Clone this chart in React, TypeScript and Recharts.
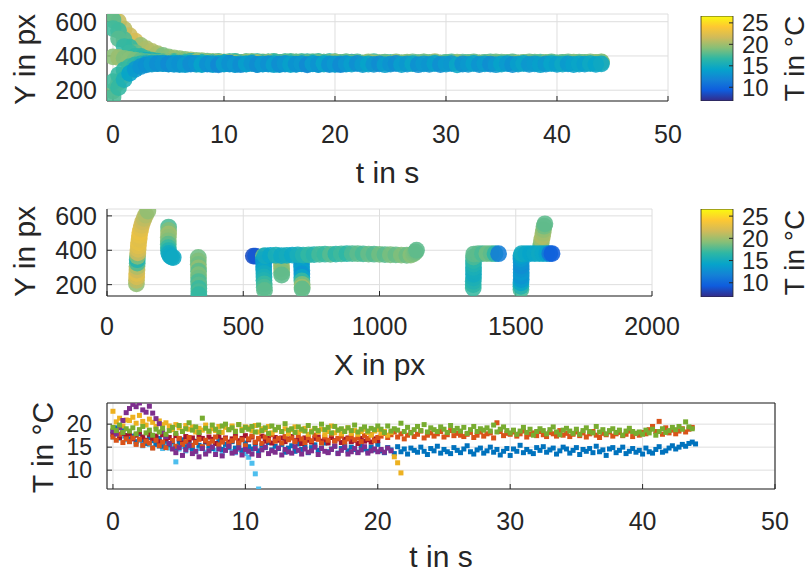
import React from 'react';
import { ScatterChart, Scatter, XAxis, YAxis, CartesianGrid, BarChart, Bar } from 'recharts';

// ---------- style constants ----------
const FONT = '"Liberation Sans", Arial, Helvetica, sans-serif';
const INK = '#262626';
const GRID = '#dedede';
const C_MIN = 6.8;
const C_MAX = 26.6;
const PARULA = ['#352a87', '#0f5cdd', '#1481d6', '#06a4ca', '#2eb7a4', '#87bf77', '#d1bb59', '#fec832', '#f9fb0e'];

// ---------- data ----------
const T_STEP = 0.25; // s, sampling of temperature series
const TRACK_STEP = 0.5; // s, sampling of Y tracks (top plot)

const T_TICKS = [0, 10, 20, 30, 40, 50];
const Y_TICKS = [200, 400, 600];
const X_TICKS = [0, 500, 1000, 1500, 2000];
const TEMP_TICKS = [10, 15, 20];
const CBAR_TICKS = [10, 15, 20, 25];

const BLUE_T = [18.5,19.2,17.8,18.9,17.5,
16.8,17.4,16.2,17.9,16.5,15.8,17.1,16.4,15.6,16.9,15.2,16.3,
15.5,16.2,14.8,15.9,16.6,15.1,15.7,14.6,16.3,15.4,14.9,16.1,15.3,14.7,15.8,16.4,14.5,15.6,15.0,16.2,14.8,15.5,14.3,15.9,
15.1,14.6,15.8,14.2,15.4,14.9,16.0,14.4,15.2,14.7,15.6,13.9,14.8,15.3,14.1,15.7,14.5,15.0,13.8,14.9,15.5,14.3,14.8,15.9,14.0,14.6,15.2,13.7,14.7,15.4,14.2,15.0,14.5,13.9,15.3,14.6,14.1,15.0,14.4,15.6,
14.2,13.8,14.9,14.4,13.6,15.1,14.0,14.6,13.5,14.8,14.3,13.9,15.0,14.1,13.4,14.7,14.2,15.2,13.7,14.5,14.0,13.6,14.9,14.3,13.8,14.6,15.3,14.0,13.5,14.4,14.8,13.7,14.2,15.0,13.9,14.5,13.3,14.1,14.7,
13.2,14.6,14.1,15.4,13.8,14.5,14.0,13.6,14.9,14.3,15.1,13.9,14.4,14.8,13.5,14.2,15.0,14.6,13.7,14.3,14.9,13.4,14.5,14.1,14.7,13.8,15.2,14.0,14.4,13.2,14.6,14.9,13.8,14.3,15.0,13.6,14.1,14.7,13.9,
14.3,13.5,14.8,14.0,13.7,14.5,15.1,13.9,14.2,14.8,15.3,14.6,15.0,15.6,15.2,15.8,16.1,15.7];

const ORANGE_T = [17.2,16.5,17.8,16.0,16.8,
16.2,17.0,15.6,16.7,15.4,16.3,15.9,14.8,16.5,15.3,16.1,14.9,
15.8,16.4,15.2,16.9,15.6,16.2,17.1,15.4,16.0,16.7,15.1,16.5,15.8,16.3,17.2,15.5,16.1,16.8,15.7,16.4,17.0,15.9,16.6,15.3,
16.8,17.4,16.1,16.9,15.8,17.2,16.5,17.7,16.3,16.9,15.9,17.3,16.6,17.0,16.2,17.5,16.8,16.0,17.1,16.4,17.6,16.7,15.9,17.2,16.5,17.8,16.3,16.9,17.4,16.1,16.8,17.3,16.6,17.0,16.2,17.5,16.9,17.7,16.4,17.1,
17.4,18.0,17.1,17.7,18.3,17.2,17.9,16.8,17.6,18.2,17.3,17.8,18.5,17.0,17.6,18.1,17.4,17.9,18.4,17.2,17.7,18.6,17.5,18.0,17.6,17.3,17.8,18.2,17.1,17.6,18.3,17.4,17.9,18.1,17.0,20.3,18.4,17.5,18.0,
17.8,18.3,17.4,17.9,18.5,17.2,17.8,18.1,17.5,18.4,17.7,17.3,18.2,17.9,17.4,18.6,17.6,18.0,17.3,17.8,18.3,17.5,18.1,17.2,17.9,18.4,17.6,17.1,18.0,17.7,18.3,17.4,17.9,18.2,17.5,17.8,18.5,17.3,18.0,
17.6,18.2,17.9,18.8,19.5,18.4,20.6,17.8,19.2,18.1,18.7,17.9,18.5,19.0,18.3,18.9,19.3];

const GREEN_T = [19.3,18.6,19.8,18.2,19.0,
18.5,19.2,17.9,18.8,19.5,18.1,18.7,17.6,18.9,18.3,19.1,17.8,
18.6,19.3,18.0,19.7,18.4,19.0,20.3,18.7,19.4,18.2,21.3,19.1,18.5,19.8,18.9,18.3,19.6,20.0,18.8,19.2,18.4,19.9,18.6,19.3,
18.9,19.5,18.3,19.8,18.6,19.2,18.0,19.6,18.8,19.3,18.4,20.1,18.7,19.0,18.2,19.4,18.9,18.5,19.7,18.3,19.1,18.6,20.0,18.8,19.3,18.1,19.5,18.7,19.0,18.4,19.2,18.6,19.8,18.3,18.9,19.4,18.5,19.1,18.8,19.6,
18.9,18.2,19.6,18.5,19.0,18.7,20.2,18.4,19.3,18.1,18.8,19.5,18.6,19.9,18.3,19.2,18.8,18.4,19.4,18.9,18.2,19.7,18.6,19.1,18.5,19.3,18.0,18.8,19.5,18.4,19.0,18.7,19.2,18.5,19.8,18.3,18.9,19.4,18.6,
18.1,18.7,17.8,18.5,19.3,18.2,18.9,17.6,18.4,19.0,18.6,17.9,18.8,19.4,18.3,17.7,18.7,19.1,18.5,18.0,18.9,17.8,18.6,19.2,18.4,18.1,19.5,18.3,18.8,17.9,18.6,19.0,18.2,18.7,17.6,18.5,19.1,18.4,18.0,
18.3,17.8,18.7,18.1,18.9,17.6,18.4,19.0,18.2,18.6,19.3,18.8,19.5,18.9,20.5,19.4,19.0];

const YELLOW_T = [22.8,20.5,21.3,19.6,20.9,
20.8,21.5,20.2,21.9,20.6,19.8,21.1,20.4,19.5,20.7,19.9,20.3,
19.6,18.8,19.9,19.2,18.5,19.7,18.9,19.4,18.3,19.1,18.7,19.8,18.4,19.0,18.6,19.5,18.2,19.3,18.8,19.6,18.5,19.9,18.9,19.4,
19.2,18.6,19.7,18.3,19.0,18.8,19.5,18.1,18.7,19.3,18.4,19.0,17.9,18.8,19.4,18.2,18.6,19.1,17.8,18.5,19.0,18.3,18.9,17.7,18.4,19.6,18.1,18.7,17.9,18.5,19.2,18.0,18.6,17.8,18.4,18.9,18.2,17.6,18.5,18.8,
18.0,18.4,17.6,18.2,12.9,11.6,9.4];

const PURPLE_T = [18.5,17.9,19.2,20.8,22.5,
23.4,24.3,23.8,24.6,23.1,22.6,23.9,22.4,21.2,20.1,18.4,17.3,
15.8,14.6,13.8,14.9,13.2,14.4,15.3,13.6,14.1,12.9,14.7,13.5,14.2,15.0,13.4,14.6,13.1,14.3,15.2,13.7,14.0,14.8,13.3,14.5,
14.1,13.5,14.7,13.2,14.4,15.0,13.6,14.2,13.9,14.8,13.3,14.5,14.0,13.7,15.1,14.3,13.5,14.6,13.9,14.2,15.0,13.4,14.7,14.1,13.8,14.5,15.2,13.6,14.3,14.9,13.5,14.0,14.7,13.8,14.4,15.1,13.7,14.2,14.6,14.0,
14.5,13.9,14.8,14.2];

const DARKRED_T = [17.8,18.4,17.1,18.0,17.5,
17.9,16.8,17.6,18.3,17.2,16.5,17.8,16.9,17.4,16.2,17.7,16.8,
17.1,16.4,17.5,16.8,15.9,17.3,16.6,17.0,16.2,17.6,16.9,16.3,17.2,16.7,15.8,17.4,16.5,17.0,16.1,16.8,17.3,16.4,16.9,17.5,
16.6,17.2,16.0,16.8,17.4,16.3,16.9,15.9,17.1,16.5,17.0,16.2,16.8,17.3,16.4,16.7,15.8,17.0,16.5,16.1,16.9,17.2,16.3,16.6,15.9,17.1,16.4,16.8,16.0,16.7,17.0,16.2,16.5,15.8,16.9,16.3,16.6,16.1,16.8,16.4];

const LIGHTBLUE_T = [17.2,17.8,16.9,17.4,16.6,
16.2,16.9,15.8,16.5,15.3,16.0,15.6,14.9,15.8,15.2,14.7,15.5,
14.8,15.3,11.8,14.6,15.1,14.2,14.9,15.4,14.0,14.7,15.2,13.9,14.5,15.0,14.3,14.8,13.7,14.4,14.9,14.1,13.8,14.5,14.2,13.6,
12.8,11.5,9.2,5.9];

// Y position tracks (px) sampled every TRACK_STEP seconds
const TRACK_A_Y = [160,215,262,298,322,338,348,353,355,356,
354,351,356,349,353,357,350,352,355,348,353,356,351,349,354,357,350,352,355,349,
353,356,350,352,355,348,354,351,357,350,353,349,355,352,356,350,353,351,354,349,
352,356,350,353,355,349,354,351,356,350,352,355,348,353,351,356,350,354,352,349,
353,355,350,352,356,351,354,349,353,355,351,352,354,350,353,352,355,351,354];
// temperature carried by track A (colour in the top plot)
const TRACK_A_T = [17.5,16.8,15.6,14.2,13.5,13.0,12.8,13.4,12.6,13.1,
12.4,13.2,12.9,13.6,12.5,13.0,14.2,12.7,13.3,12.2,13.8,12.9,13.4,12.6,14.0,13.1,12.5,13.5,12.8,13.9,
12.6,13.3,14.1,12.9,13.4,12.3,13.7,13.0,14.3,12.8,13.5,12.4,13.2,13.9,12.7,13.6,14.2,13.1,12.5,13.8,
13.0,12.6,13.9,13.3,14.4,12.8,13.5,13.1,14.0,12.7,13.6,13.2,14.5,12.9,13.4,14.1,13.0,13.7,12.6,13.3,
14.2,13.5,12.9,13.8,14.4,13.2,13.6,14.0,13.3,14.3,13.8,14.6,13.5,14.1,14.4,13.9,14.7,14.2,14.8];
const TRACK_B_Y = [560,500,455,420,397,383,374,368,365,363,
362,365,360,364,367,361,363,366,359,364,362,367,360,363,365,361,366,362,364,360,
363,366,361,364,359,365,362,367,360,363,364,361,366,362,365,360,363,367,361,364,
362,365,360,363,366,361,364,362,367,360,363,365,361,364,362,366,360,363,365,361,
364,362,366,360,363,365,361,364,362,366,360,363,365,361,364,362,366,363,365];
const TRACK_C_Y = [395,391,386,380,375,371,368,366,364,363,
362,359,364,357,361,365,358,362,360,366,357,363,359,361,365,358,362,360,364,357,
361,363,358,365,360,362,357,364,359,361,366,358,363,360,362,357,365,359,361,363,
358,362,360,364,357,361,365,359,362,358,363,360,364,357,361,363,359,362,360,365,
358,361,363,359,362,360,364,358,361,363,360,362,359,364,361,363,360,362,364];
const TRACK_D_Y = [645,600,556,518,487,462,442,426,413,403,395,389,384,380,377,374,372,370,368,367,
366,364,367,363,365,368,362,366,364,367,363,365,368,364,366,363,367,365,364,366,
365,363,366,364];
const TRACK_E_Y = [195,245,285,315,335,347,353,356,357,355,
352,356,350,354,357,351,353,355,349,354,356,352,350,355,353,357,351,354,352,356,
350,353,355,351,354,352,356,350,353,355,351,354,353];
const TRACK_F_Y = [250,290,318,337,348,354,357,358,356,359,355,358,354,357,359,355,358,356,354,357,355,358];
const TRACK_G_Y = [610,548,495,452,420,398,384,375,369,366,364,367,362,365,368,363,366,361,364,367,
362,365,368,363,366,364,367,362,365,368,363,366,364,362,367,365,363,366,364,367,365];

// Y vs X segments: [X px, Y px, T °C]
const SEG_1 = [[108,205,19.5],[108,225,21],[109,245,22],[109,265,22.5],[110,285,21.5],[110,305,20.5],[111,325,17.5],[111,345,16],[112,365,19],[113,385,21.5],[114,405,22],[115,425,22.5],[116,445,22.8],[118,465,22.5],[119,485,22.8],[121,505,23],[124,525,22.5],[127,545,22],[131,565,21.5],[136,585,21],[142,605,20.5],[150,628,19.5]];
const SEG_2 = [[226,535,17.5],[226,515,19],[226,495,20],[225,475,19.5],[225,455,19],[225,435,18],[225,415,17],[226,398,16],[227,382,15],[231,368,14.8],[237,360,14.6],[243,358,14.8]];
const SEG_3 = [[335,358,18.5],[335,338,19],[335,318,18.5],[336,298,19.5],[336,278,18],[336,258,19],[336,238,18.5],[336,218,17.5],[337,198,18],[337,178,17],[337,160,17.5],[337,142,16.8]];
const SEG_4 = [[537,366,8.5],[545,366,9]];
const SEG_5 = [[574,366,18.5],[574,345,14],[575,325,13],[575,305,13.5],[575,285,14.5],[576,265,15],[576,245,15.5],[576,225,16],[577,205,17],[577,185,17.5],[578,166,18]];
const SEG_6 = [[640,352,18],[640,332,19],[640,312,20],[641,292,19.5],[641,272,19],[641,256,18]];
const SEG_7 = [[714,362,13],[714,342,12.5],[714,322,13],[714,302,13.5],[715,282,14],[715,262,13],[715,242,14.5],[715,222,17],[716,202,19],[716,185,20],[716,175,18]];
const SEG_8 = [[580,368,15],[600,370,14.5],[620,371,15.5],[640,369,14.8],[660,370,15.2],[680,372,14.6],[700,373,15.4],[720,372,16],[740,373,16.8],[760,375,16.2],[780,376,17.3],[800,377,16.9],[820,376,17.8],[840,378,16.5],[860,379,17.2],[880,380,16.6],[900,381,17.5],[920,380,18],[940,379,17.4],[960,378,18.3],[980,377,17.7],[1000,376,18.6],[1020,375,17.9],[1040,374,18.8],[1060,373,18.2],[1080,372,19],[1100,371,18.4],[1115,372,19.2],[1125,380,18.8],[1132,390,18.5],[1136,400,18]];
const SEG_9 = [[1344,180,17],[1344,200,16.5],[1344,220,16],[1345,240,15.5],[1345,260,15],[1345,280,15.2],[1345,300,15.5],[1345,320,16],[1345,340,16.5],[1345,360,17.5],[1346,378,18],[1362,381,18],[1378,381,17.5],[1394,381,18.5],[1410,381,18],[1424,380,16.5],[1437,380,11.5]];
const SEG_11 = [[1589,400,17],[1591,420,18],[1593,440,19],[1595,460,20],[1598,480,20.5],[1600,500,20],[1602,520,19.5],[1604,540,18.5],[1607,554,18]];
const SEG_10 = [[1519,172,17.5],[1519,190,16],[1519,210,14.5],[1520,230,13.5],[1520,250,13],[1520,270,13.5],[1520,290,13],[1520,310,12.5],[1520,330,13],[1519,350,13.5],[1519,368,14],[1522,381,15],[1538,381,14.5],[1554,381,14.2],[1570,381,14.5],[1586,381,14.8],[1600,381,14.5],[1614,381,14],[1625,381,11],[1633,381,9.5]];

// ---------- helpers ----------
function hexRgb(h: string) {
  return [parseInt(h.slice(1, 3), 16), parseInt(h.slice(3, 5), 16), parseInt(h.slice(5, 7), 16)];
}
function parula(T: number) {
  let u = (T - C_MIN) / (C_MAX - C_MIN);
  u = Math.max(0, Math.min(1, u)) * (PARULA.length - 1);
  const i = Math.min(Math.floor(u), PARULA.length - 2);
  const f = u - i;
  const a = hexRgb(PARULA[i]);
  const b = hexRgb(PARULA[i + 1]);
  const c = a.map((v, k) => Math.round(v + (b[k] - v) * f));
  return `rgb(${c[0]},${c[1]},${c[2]})`;
}

const RATIO = Math.round(TRACK_STEP / T_STEP);
const trackData = (ys: number[], temps: number[], ratio: number) =>
  ys.map((y, i) => ({ x: i * TRACK_STEP, y, T: temps[Math.min(i * ratio, temps.length - 1)] }));
const TOP_TRACKS = [
  trackData(TRACK_D_Y, YELLOW_T, RATIO),
  trackData(TRACK_G_Y, DARKRED_T, RATIO),
  trackData(TRACK_B_Y, ORANGE_T, RATIO),
  trackData(TRACK_C_Y, GREEN_T, RATIO),
  trackData(TRACK_E_Y, PURPLE_T, RATIO),
  trackData(TRACK_F_Y, LIGHTBLUE_T, RATIO),
  trackData(TRACK_A_Y, TRACK_A_T, 1),
];
const MID_SEGS = [SEG_1, SEG_2, SEG_3, SEG_4, SEG_5, SEG_6, SEG_7, SEG_8, SEG_9, SEG_11, SEG_10].map((s) =>
  s.map(([x, y, T]) => ({ x, y, T }))
);
const tempData = (temps: number[]) => temps.map((v, i) => ({ x: i * T_STEP, y: v }));
const BOTTOM = [
  { data: tempData(LIGHTBLUE_T), color: '#4DBEEE' },
  { data: tempData(BLUE_T), color: '#0072BD' },
  { data: tempData(DARKRED_T), color: '#A2142F' },
  { data: tempData(ORANGE_T), color: '#D95319' },
  { data: tempData(YELLOW_T), color: '#EDB120' },
  { data: tempData(PURPLE_T), color: '#7E2F8E' },
  { data: tempData(GREEN_T), color: '#77AC30' },
];
const CBAR_DATA = [{ name: 'T', range: [C_MIN, C_MAX] }];

// ---------- small components ----------
const Title = (props: any) => {
  const { tx, ty, rot, text, size } = props;
  return (
    <text
      x={tx}
      y={ty}
      transform={rot ? `rotate(-90 ${tx} ${ty})` : undefined}
      textAnchor="middle"
      fontSize={size}
      fontFamily={FONT}
      fill={INK}
    >
      {text}
    </text>
  );
};

const bigDot = (p: any) => (
  <circle cx={p.cx} cy={p.cy} r={8.4} fill={parula(p.payload.T)} fillOpacity={0.88} />
);
const square = (color: string) => (p: any) => (
  <rect x={p.cx - 2.5} y={p.cy - 2.5} width={5} height={5} fill={color} />
);

const tickStyle = (size: number) => ({ fill: INK, fontSize: size, fontFamily: FONT });
const axisLine = { stroke: INK, strokeWidth: 1.1 };
const tickLine = { stroke: INK, strokeWidth: 1 };

const ColorBar = ({ top, mTop, h, id, ly }: any) => (
  <div style={{ position: 'absolute', left: 0, top }}>
    <BarChart
      width={812}
      height={h}
      data={CBAR_DATA}
      margin={{ top: mTop, right: 0, bottom: 0, left: 701 }}
      barCategoryGap={0}
      barGap={0}
    >
      <defs>
        <linearGradient id={id} x1="0" y1="1" x2="0" y2="0">
          {PARULA.map((c, i) => (
            <stop key={i} offset={i / (PARULA.length - 1)} stopColor={c} />
          ))}
        </linearGradient>
      </defs>
      <XAxis dataKey="name" hide />
      <YAxis
        orientation="right"
        width={79}
        type="number"
        domain={[C_MIN, C_MAX]}
        ticks={CBAR_TICKS}
        allowDataOverflow
        interval={0}
        axisLine={false}
        tickLine={tickLine}
        tickSize={-4}
        tickMargin={13}
        tick={tickStyle(24)}
        label={<Title tx={804} ty={ly} rot text="T in °C" size={28} />}
      />
      <Bar dataKey="range" fill={`url(#${id})`} stroke={INK} strokeWidth={0.8} isAnimationActive={false} />
    </BarChart>
  </div>
);

export default function App() {
  return (
    <div style={{ position: 'absolute', left: 0, top: 0, width: 812, height: 574, background: '#fff' }}>
      {/* ---- top: Y vs t ---- */}
      <div style={{ position: 'absolute', left: 0, top: 0 }}>
        <ScatterChart width={700} height={190} margin={{ top: 14, right: 32, bottom: 0, left: 0 }}>
          <CartesianGrid stroke={GRID} />
          <XAxis
            type="number"
            dataKey="x"
            domain={[-0.54, 50]}
            ticks={T_TICKS}
            interval={0}
            allowDataOverflow
            height={89}
            axisLine={axisLine}
            tickLine={tickLine}
            tickSize={-5}
            tickMargin={29}
            tick={tickStyle(25)}
            label={<Title tx={387.5} ty={182.5} text="t in s" size={30} />}
          />
          <YAxis
            type="number"
            dataKey="y"
            domain={[137, 645]}
            ticks={Y_TICKS}
            interval={0}
            allowDataOverflow
            width={107}
            axisLine={axisLine}
            tickLine={tickLine}
            tickSize={-5}
            tickMargin={15}
            tick={tickStyle(25)}
            label={<Title tx={35} ty={59.5} rot text="Y in px" size={30} />}
          />
          {TOP_TRACKS.map((d, i) => (
            <Scatter key={i} data={d} shape={bigDot} isAnimationActive={false} />
          ))}
        </ScatterChart>
      </div>
      <ColorBar top={0} mTop={16} h={101} id="parulaA" ly={58.5} />

      {/* ---- middle: Y vs X ---- */}
      <div style={{ position: 'absolute', left: 0, top: 190 }}>
        <ScatterChart width={700} height={195} margin={{ top: 19, right: 48, bottom: 0, left: 0 }}>
          <CartesianGrid stroke={GRID} />
          <XAxis
            type="number"
            dataKey="x"
            domain={[0, 2000]}
            ticks={X_TICKS}
            interval={0}
            allowDataOverflow
            height={89}
            axisLine={axisLine}
            tickLine={tickLine}
            tickSize={-5}
            tickMargin={26}
            tick={tickStyle(25)}
            label={<Title tx={379.5} ty={184.5} text="X in px" size={30} />}
          />
          <YAxis
            type="number"
            dataKey="y"
            domain={[134, 640]}
            ticks={Y_TICKS}
            interval={0}
            allowDataOverflow
            width={107}
            axisLine={axisLine}
            tickLine={tickLine}
            tickSize={-5}
            tickMargin={15}
            tick={tickStyle(25)}
            label={<Title tx={35} ty={61.5} rot text="Y in px" size={30} />}
          />
          {MID_SEGS.map((d, i) => (
            <Scatter key={i} data={d} shape={bigDot} isAnimationActive={false} />
          ))}
        </ScatterChart>
      </div>
      <ColorBar top={190} mTop={19} h={107} id="parulaB" ly={62.5} />

      {/* ---- bottom: T vs t ---- */}
      <div style={{ position: 'absolute', left: 0, top: 385 }}>
        <ScatterChart width={812} height={189} margin={{ top: 17, right: 36, bottom: 0, left: 0 }}>
          <CartesianGrid stroke={GRID} />
          <XAxis
            type="number"
            dataKey="x"
            domain={[-0.45, 50]}
            ticks={T_TICKS}
            interval={0}
            allowDataOverflow
            height={85}
            axisLine={axisLine}
            tickLine={tickLine}
            tickSize={-5}
            tickMargin={28}
            tick={tickStyle(25)}
            label={<Title tx={441} ty={182} text="t in s" size={30} />}
          />
          <XAxis
            xAxisId="top"
            orientation="top"
            type="number"
            domain={[-0.45, 50]}
            ticks={T_TICKS}
            interval={0}
            allowDataOverflow
            height={1}
            axisLine={axisLine}
            tickLine={tickLine}
            tickSize={-5}
            tick={false}
          />
          <YAxis
            type="number"
            dataKey="y"
            domain={[5.9, 24.6]}
            ticks={TEMP_TICKS}
            interval={0}
            allowDataOverflow
            width={107}
            axisLine={axisLine}
            tickLine={tickLine}
            tickSize={-5}
            tickMargin={20}
            tick={tickStyle(23)}
            label={<Title tx={53} ty={62.5} rot text="T in °C" size={30} />}
          />
          <YAxis
            yAxisId="right"
            orientation="right"
            type="number"
            domain={[5.9, 24.6]}
            ticks={TEMP_TICKS}
            interval={0}
            allowDataOverflow
            width={1}
            axisLine={axisLine}
            tickLine={tickLine}
            tickSize={-5}
            tick={false}
          />
          {BOTTOM.map((s, i) => (
            <Scatter key={i} data={s.data} shape={square(s.color)} isAnimationActive={false} />
          ))}
        </ScatterChart>
      </div>
    </div>
  );
}
